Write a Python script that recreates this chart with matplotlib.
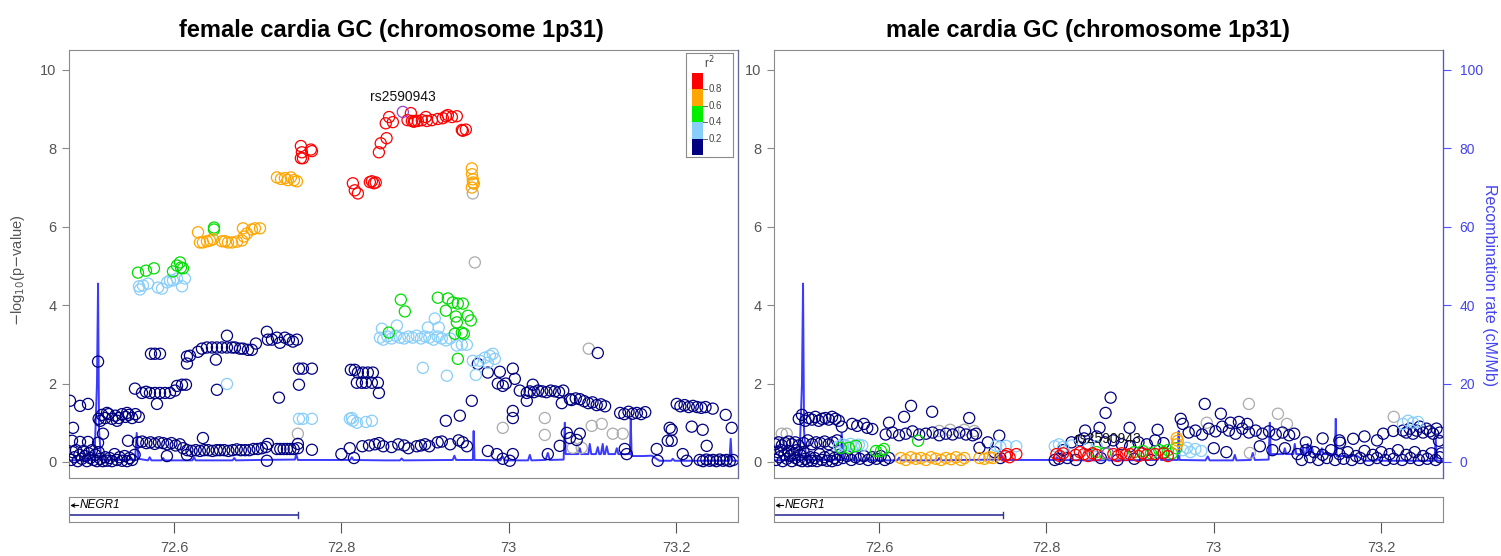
import matplotlib
matplotlib.use('Agg')
import matplotlib.pyplot as plt
from matplotlib.patches import Rectangle

plt.rcParams['font.family'] = ['Liberation Sans', 'DejaVu Sans']

# ---------------- data ----------------
titles = ["female cardia GC (chromosome 1p31)", "male cardia GC (chromosome 1p31)"]
lead_snp = "rs2590943"
lead_pos = 72.8734
gene_name = "NEGR1"
gene_end = 72.748
x_ticks = [72.6, 72.8, 73.0, 73.2]
x_tick_labels = ["72.6", "72.8", "73", "73.2"]
y_ticks = [0, 2, 4, 6, 8, 10]
rec_ticks = [0, 20, 40, 60, 80, 100]
legend_breaks = ["0.8", "0.6", "0.4", "0.2"]

# recombination rate (cM/Mb), shared by both panels
rec_pos = [72.4746, 72.505, 72.5080, 72.5093, 72.5105, 72.513, 72.540, 72.5535, 72.5555, 72.5575,
           72.569, 72.571, 72.573, 72.585, 72.587, 72.589, 72.622, 72.624, 72.626, 72.670, 72.672,
           72.674, 72.700, 72.7445, 72.746, 72.748, 72.8105, 72.8125, 72.8145, 72.850, 72.870, 72.872,
           72.874, 72.933, 72.935, 72.937, 72.957, 72.958, 72.959, 72.990, 72.9928, 72.995, 73.023,
           73.0251, 73.027, 73.044, 73.0466, 73.049, 73.0655, 73.0669, 73.068, 73.070, 73.083, 73.0848,
           73.0865, 73.095, 73.0967, 73.0985, 73.104, 73.1063, 73.108, 73.110, 73.1122, 73.1135, 73.115,
           73.117, 73.119, 73.127, 73.129, 73.131, 73.1447, 73.1457, 73.1467, 73.160, 73.1707, 73.180,
           73.194, 73.1958, 73.198, 73.2635, 73.2651, 73.2665, 73.2738]
rec_rate = [0.4, 0.5, 20.0, 45.5, 8.0, 0.6, 0.5, 0.6, 7.4, 0.8,
            0.4, 1.2, 0.4, 0.4, 1.0, 0.4, 0.4, 1.1, 0.4, 0.4, 1.0,
            0.4, 0.5, 0.6, 2.0, 0.5, 0.5, 1.2, 0.5, 0.4, 0.4, 0.9,
            0.4, 0.5, 1.6, 0.5, 0.5, 7.9, 0.5, 0.4, 1.4, 0.4, 0.4,
            1.8, 0.4, 0.5, 2.3, 0.5, 0.6, 10.0, 2.0, 2.0, 2.0, 3.5,
            2.0, 2.0, 4.6, 2.0, 2.0, 3.8, 2.0, 2.0, 4.6, 2.0, 2.0,
            4.0, 2.0, 2.0, 3.5, 2.0, 2.0, 11.0, 1.5, 1.5, 1.6, 0.3,
            0.3, 0.8, 0.3, 0.3, 5.9, 0.3, 0.3]

# ---- female panel: (position Mb, -log10 p) by LD class ----
f_lead = [(72.8734, 8.93)]
f_red = [(72.7516, 8.06), (72.7528, 7.90), (72.7516, 7.75), (72.7540, 7.75), (72.7636, 7.97), (72.7648, 7.93),
         (72.8137, 7.11), (72.8160, 6.93), (72.8197, 6.85), (72.8340, 7.14), (72.8364, 7.16), (72.8388, 7.11),
         (72.8410, 7.13), (72.8448, 7.90), (72.8470, 8.13), (72.8540, 8.26), (72.8530, 8.64), (72.8570, 8.80),
         (72.8615, 8.67), (72.8790, 8.72), (72.8830, 8.90), (72.8842, 8.70), (72.8866, 8.68), (72.8878, 8.70),
         (72.8913, 8.70), (72.8961, 8.72), (72.9009, 8.80), (72.9021, 8.70), (72.9081, 8.72), (72.9152, 8.75),
         (72.9212, 8.77), (72.9248, 8.82), (72.9272, 8.85), (72.9320, 8.80), (72.9379, 8.82), (72.9439, 8.47),
         (72.9451, 8.45), (72.9487, 8.48)]
f_orange = [(72.7230, 7.26), (72.7278, 7.22), (72.7325, 7.24), (72.7360, 7.19), (72.7397, 7.26), (72.7433, 7.19),
            (72.7469, 7.16), (72.9558, 7.49), (72.9560, 7.34), (72.9570, 7.21), (72.9572, 7.13), (72.9582, 7.10),
            (72.9558, 7.00), (72.6287, 5.86), (72.6310, 5.60), (72.6346, 5.60), (72.6394, 5.63), (72.6430, 5.65),
            (72.6466, 5.68), (72.6573, 5.63), (72.6609, 5.63), (72.6645, 5.60), (72.6693, 5.60), (72.6752, 5.62),
            (72.6812, 5.65), (72.6836, 5.75), (72.6872, 5.83), (72.6824, 5.96), (72.6931, 5.93), (72.6967, 5.96),
            (72.7027, 5.96)]
f_green = [(72.6478, 5.98), (72.6478, 5.93), (72.5570, 4.83), (72.5666, 4.88), (72.5761, 4.94), (72.5988, 4.86),
           (72.6036, 5.01), (72.6072, 5.09), (72.6107, 4.94), (72.6084, 4.96), (72.8710, 4.14), (72.8758, 3.84),
           (72.8567, 3.30), (72.9152, 4.19), (72.9272, 4.17), (72.9331, 4.07), (72.9391, 4.04), (72.9451, 4.04),
           (72.9248, 3.86), (72.9367, 3.71), (72.9510, 3.73), (72.9546, 3.61), (72.9379, 3.56), (72.9355, 3.27),
           (72.9439, 3.30), (72.9463, 3.27), (72.9391, 2.63)]
f_lightblue = [(72.5582, 4.48), (72.5594, 4.40), (72.5630, 4.50), (72.5690, 4.55), (72.5809, 4.45), (72.5857, 4.42),
               (72.5916, 4.58), (72.5952, 4.63), (72.5988, 4.63), (72.6036, 4.68), (72.6096, 4.48), (72.6131, 4.68),
               (72.6633, 1.99), (72.7493, 1.10), (72.7540, 1.10), (72.7648, 1.10), (72.8101, 1.10), (72.8137, 1.05),
               (72.8185, 1.00), (72.8125, 1.12), (72.8364, 1.05), (72.8293, 1.02), (72.8484, 3.40), (72.8663, 3.48),
               (72.9116, 3.66), (72.9033, 3.43), (72.9164, 3.43), (72.8460, 3.17), (72.8500, 3.12), (72.8550, 3.20),
               (72.8600, 3.15), (72.8650, 3.22), (72.8700, 3.17), (72.8750, 3.15), (72.8800, 3.20), (72.8850, 3.17),
               (72.8900, 3.22), (72.8950, 3.15), (72.9000, 3.20), (72.9050, 3.17), (72.9100, 3.12), (72.9150, 3.20),
               (72.9200, 3.15), (72.9250, 3.10), (72.9300, 3.15), (72.9379, 2.97), (72.9439, 2.99), (72.9499, 2.99),
               (72.8973, 2.40), (72.9260, 2.20), (72.9606, 2.22), (72.9570, 2.58), (72.9654, 2.58), (72.9713, 2.66),
               (72.9773, 2.71), (72.9809, 2.76), (72.9833, 2.63), (72.9750, 2.53)]
f_gray = [(72.9594, 5.09), (72.9570, 6.85), (73.0955, 2.89), (72.9928, 0.87), (73.0430, 1.12), (73.0430, 0.69),
          (73.0991, 0.92), (73.1110, 0.97), (73.1242, 0.72), (73.1361, 0.72), (73.0764, 0.36), (73.0871, 0.36),
          (72.7480, 0.72)]
f_navy = [(72.5725, 2.76), (72.5773, 2.76), (72.5833, 2.76), (72.6155, 2.69), (72.6191, 2.71), (72.6155, 2.51),
          (72.6287, 2.81), (72.6334, 2.89), (72.6394, 2.92), (72.6454, 2.92), (72.6513, 2.92), (72.6573, 2.92),
          (72.6633, 2.92), (72.6693, 2.92), (72.6728, 2.92), (72.6788, 2.89), (72.6824, 2.89), (72.6884, 2.86),
          (72.6931, 2.86), (72.6979, 3.02), (72.6501, 2.61), (72.6633, 3.22), (72.7110, 3.32), (72.7122, 3.12),
          (72.7170, 3.12), (72.7230, 3.17), (72.7266, 3.04), (72.7325, 3.17), (72.7373, 3.12), (72.7421, 3.07),
          (72.7469, 3.12), (72.7493, 2.38), (72.7540, 2.38), (72.7648, 2.38), (72.7493, 1.97), (72.7254, 1.64),
          (72.8113, 2.35), (72.8160, 2.35), (72.8197, 2.28), (72.8257, 2.28), (72.8316, 2.28), (72.8376, 2.28),
          (72.8185, 2.02), (72.8245, 2.02), (72.8293, 2.02), (72.8364, 2.02), (72.8436, 2.02), (72.8448, 1.76),
          (72.9630, 2.50), (72.9749, 2.28), (72.9893, 2.30), (73.0048, 2.38), (72.9869, 2.00), (72.9928, 1.94),
          (72.9964, 2.00), (73.0072, 2.12), (73.0131, 1.82), (73.0215, 1.76), (73.0287, 1.97), (72.9558, 1.56),
          (73.0048, 1.30), (72.9415, 1.18), (72.9248, 1.05), (73.0250, 1.80), (73.0300, 1.78), (73.0350, 1.82),
          (73.0400, 1.80), (73.0450, 1.78), (73.0500, 1.82), (73.0550, 1.80), (73.0600, 1.78), (73.0650, 1.82),
          (73.0215, 1.56), (73.0048, 1.12), (73.0633, 1.50), (73.0730, 1.60), (73.0750, 1.58), (73.0800, 1.62),
          (73.0850, 1.60), (73.0900, 1.55), (73.0950, 1.50), (73.1000, 1.52), (73.1050, 1.45), (73.1100, 1.47),
          (73.1150, 1.42), (73.1063, 2.78), (73.1330, 1.25), (73.1380, 1.22), (73.1430, 1.28), (73.1480, 1.23),
          (73.1530, 1.25), (73.1580, 1.22), (73.1630, 1.27), (73.2006, 1.48), (73.2050, 1.42), (73.2100, 1.45),
          (73.2150, 1.40), (73.2200, 1.43), (73.2250, 1.40), (73.2300, 1.38), (73.2350, 1.40), (73.2436, 1.36),
          (73.2591, 1.20), (73.2663, 0.87), (73.2364, 0.41), (73.2280, 0.05), (73.2320, 0.02), (73.2360, 0.06),
          (73.2400, 0.03), (73.2440, 0.05), (73.2480, 0.02), (73.2520, 0.06), (73.2560, 0.03), (73.2600, 0.05),
          (73.2640, 0.02), (73.2680, 0.05), (73.0693, 0.74), (73.0730, 0.61), (73.0812, 0.56), (73.0848, 0.72),
          (73.0609, 0.41), (72.9750, 0.28), (72.9857, 0.20), (72.9928, 0.08), (73.0012, 0.03), (73.0048, 0.20),
          (73.0466, 0.20), (73.1385, 0.33), (73.1409, 0.20), (73.1779, 0.03), (73.1767, 0.33), (73.2078, 0.20),
          (73.2125, 0.03), (73.1922, 0.87), (73.1946, 0.82), (73.1899, 0.54), (73.1946, 0.54), (73.2185, 0.90),
          (73.2316, 0.82), (72.4758, 1.56), (72.4878, 1.43), (72.4973, 1.48), (72.5093, 2.56), (72.5100, 1.10),
          (72.5140, 1.20), (72.5180, 1.12), (72.5220, 1.22), (72.5260, 1.10), (72.5300, 1.18), (72.5340, 1.12),
          (72.5380, 1.22), (72.5420, 1.15), (72.5460, 1.20), (72.5500, 1.12), (72.5540, 1.22), (72.5580, 1.15),
          (72.5120, 1.05), (72.5200, 1.25), (72.5320, 1.05), (72.5440, 1.25), (72.5534, 1.87), (72.5618, 1.76),
          (72.5666, 1.79), (72.5713, 1.76), (72.5773, 1.76), (72.5833, 1.76), (72.5893, 1.76), (72.5952, 1.76),
          (72.6012, 1.82), (72.6036, 1.94), (72.6096, 1.97), (72.6143, 1.97), (72.5797, 1.48), (72.6513, 1.84),
          (72.4794, 0.87), (72.4782, 0.54), (72.4878, 0.51), (72.4973, 0.51), (72.5093, 0.49), (72.5152, 0.72),
          (72.5451, 0.54), (72.5570, 0.50), (72.5620, 0.52), (72.5670, 0.48), (72.5720, 0.50), (72.5770, 0.46),
          (72.5820, 0.50), (72.5870, 0.48), (72.5920, 0.45), (72.5970, 0.48), (72.6020, 0.42), (72.6070, 0.45),
          (72.6346, 0.61), (72.6110, 0.35), (72.6160, 0.30), (72.6210, 0.28), (72.6260, 0.30), (72.6310, 0.28),
          (72.6360, 0.30), (72.6410, 0.30), (72.6460, 0.28), (72.6510, 0.30), (72.6550, 0.30), (72.6600, 0.30),
          (72.6650, 0.28), (72.6700, 0.30), (72.6750, 0.32), (72.6800, 0.30), (72.6850, 0.30), (72.6900, 0.30),
          (72.6950, 0.33), (72.7000, 0.33), (72.7050, 0.35), (72.7100, 0.38), (72.7122, 0.46), (72.7230, 0.33),
          (72.7270, 0.33), (72.7310, 0.33), (72.7350, 0.33), (72.7390, 0.33), (72.7430, 0.33), (72.7480, 0.35),
          (72.7480, 0.46), (72.7648, 0.31), (72.4770, 0.05), (72.4790, 0.25), (72.4810, 0.12), (72.4830, 0.30),
          (72.4850, 0.02), (72.4870, 0.18), (72.4900, 0.08), (72.4920, 0.28), (72.4940, 0.15), (72.4960, 0.02),
          (72.4980, 0.22), (72.5000, 0.10), (72.5020, 0.30), (72.5040, 0.05), (72.5060, 0.18), (72.5080, 0.02),
          (72.5100, 0.25), (72.5120, 0.08), (72.5150, 0.02), (72.5180, 0.12), (72.5200, 0.03), (72.5230, 0.10),
          (72.5260, 0.02), (72.5290, 0.20), (72.5320, 0.05), (72.5350, 0.12), (72.5380, 0.03), (72.5410, 0.15),
          (72.5440, 0.02), (72.5470, 0.10), (72.5500, 0.05), (72.5530, 0.18), (72.5916, 0.15), (72.6155, 0.18),
          (72.7110, 0.03), (72.8000, 0.20), (72.8100, 0.35), (72.8150, 0.10), (72.8250, 0.40), (72.8330, 0.42),
          (72.8400, 0.45), (72.8450, 0.48), (72.8500, 0.40), (72.8600, 0.38), (72.8680, 0.45), (72.8750, 0.42),
          (72.8800, 0.35), (72.8900, 0.40), (72.8950, 0.42), (72.9000, 0.45), (72.9050, 0.40), (72.9150, 0.50),
          (72.9200, 0.52), (72.9300, 0.45), (72.9400, 0.55), (72.9450, 0.50), (72.9500, 0.40)]

# ---- male panel ----
m_lead = [(72.8734, 0.22)]
m_red = [(72.7509, 0.15), (72.7530, 0.20), (72.7560, 0.12), (72.7641, 0.20), (72.8120, 0.20), (72.8160, 0.15),
         (72.8200, 0.22), (72.8350, 0.18), (72.8400, 0.25), (72.8450, 0.20), (72.8500, 0.15), (72.8550, 0.22),
         (72.8600, 0.18), (72.8800, 0.20), (72.8850, 0.15), (72.8900, 0.22), (72.8950, 0.18), (72.9000, 0.20),
         (72.9100, 0.15), (72.9150, 0.22), (72.9200, 0.18), (72.9300, 0.20), (72.9400, 0.22), (72.9450, 0.15)]
m_orange = [(72.6260, 0.10), (72.6320, 0.05), (72.6380, 0.12), (72.6440, 0.08), (72.6500, 0.10), (72.6560, 0.05),
            (72.6620, 0.12), (72.6680, 0.08), (72.6740, 0.05), (72.6800, 0.10), (72.6860, 0.07), (72.6920, 0.12),
            (72.6980, 0.05), (72.7020, 0.10), (72.7200, 0.10), (72.7260, 0.08), (72.7320, 0.12), (72.7360, 0.10),
            (72.9557, 0.61), (72.9569, 0.54), (72.9560, 0.45)]
m_green = [(72.5545, 0.36), (72.5641, 0.36), (72.5725, 0.41), (72.5964, 0.28), (72.6024, 0.28), (72.6060, 0.33),
           (72.6467, 0.54), (72.8600, 0.25), (72.8700, 0.22), (72.9050, 0.25), (72.9150, 0.28), (72.9250, 0.22),
           (72.9350, 0.30), (72.9400, 0.25), (72.9450, 0.30), (72.9500, 0.22), (72.9550, 0.35)]
m_lightblue = [(72.5520, 0.40), (72.5560, 0.45), (72.5600, 0.42), (72.5660, 0.46), (72.5700, 0.40), (72.5760, 0.44),
               (72.5800, 0.42), (72.7400, 0.41), (72.7450, 0.38), (72.7520, 0.41), (72.7640, 0.40), (72.8100, 0.40),
               (72.8150, 0.45), (72.8200, 0.38), (72.8300, 0.42), (72.8500, 0.35), (72.8600, 0.40), (72.9630, 0.30),
               (72.9680, 0.36), (72.9720, 0.25), (72.9780, 0.33), (72.9850, 0.28), (73.2260, 0.97), (73.2320, 1.05),
               (73.2380, 1.00), (73.2440, 1.02)]
m_gray = [(72.4838, 0.72), (72.4898, 0.72), (72.6719, 0.79), (72.6850, 0.82), (72.7018, 0.82), (72.7138, 0.79),
          (73.0419, 1.48), (73.0766, 1.23), (73.0874, 0.97), (72.9916, 1.00), (73.0431, 0.23), (73.2150, 1.15)]
m_navy = [(72.4760, 0.45), (72.4800, 0.50), (72.4840, 0.42), (72.4880, 0.48), (72.4920, 0.52), (72.4960, 0.45),
          (72.5000, 0.50), (72.5040, 0.42), (72.5100, 0.48), (72.5150, 0.55), (72.5200, 0.45), (72.5250, 0.50),
          (72.5300, 0.48), (72.5350, 0.52), (72.5400, 0.45), (72.5450, 0.50), (72.5500, 0.55), (72.5042, 1.10),
          (72.5080, 1.20), (72.5120, 1.05), (72.5160, 1.12), (72.5200, 1.08), (72.5240, 1.15), (72.5280, 1.05),
          (72.5320, 1.10), (72.5360, 1.12), (72.5400, 1.08), (72.5440, 1.15), (72.5480, 1.10), (72.5520, 1.05),
          (72.5557, 0.90), (72.5680, 0.97), (72.5740, 0.92), (72.5820, 0.97), (72.5860, 0.87), (72.5920, 0.84),
          (72.4770, 0.05), (72.4790, 0.25), (72.4810, 0.12), (72.4830, 0.30), (72.4850, 0.02), (72.4870, 0.18),
          (72.4900, 0.08), (72.4920, 0.28), (72.4940, 0.15), (72.4960, 0.02), (72.4980, 0.22), (72.5000, 0.10),
          (72.5020, 0.30), (72.5040, 0.05), (72.5060, 0.18), (72.5080, 0.02), (72.5100, 0.25), (72.5120, 0.08),
          (72.5150, 0.02), (72.5180, 0.12), (72.5200, 0.03), (72.5230, 0.10), (72.5260, 0.02), (72.5290, 0.20),
          (72.5320, 0.05), (72.5350, 0.12), (72.5380, 0.03), (72.5410, 0.15), (72.5440, 0.02), (72.5470, 0.10),
          (72.5500, 0.05), (72.5530, 0.18), (72.5570, 0.10), (72.5620, 0.15), (72.5670, 0.05), (72.5720, 0.12),
          (72.5770, 0.08), (72.5820, 0.15), (72.5870, 0.05), (72.5920, 0.12), (72.5970, 0.08), (72.6020, 0.15),
          (72.6070, 0.05), (72.6120, 0.10), (72.6120, 1.00), (72.6300, 1.15), (72.6383, 1.43), (72.6635, 1.28),
          (72.6080, 0.70), (72.6160, 0.75), (72.6240, 0.68), (72.6320, 0.72), (72.6400, 0.78), (72.6480, 0.70),
          (72.6560, 0.72), (72.6640, 0.75), (72.6720, 0.68), (72.6800, 0.72), (72.6880, 0.70), (72.6960, 0.75),
          (72.7040, 0.70), (72.7120, 0.68), (72.7160, 0.72), (72.7078, 1.12), (72.7200, 0.36), (72.7437, 0.67),
          (72.7300, 0.50), (72.7380, 0.25), (72.7450, 0.10), (72.8100, 0.05), (72.8200, 0.30), (72.8250, 0.10),
          (72.8300, 0.50), (72.8400, 0.55), (72.8450, 0.60), (72.8500, 0.45), (72.8600, 0.65), (72.8700, 0.50),
          (72.8800, 0.55), (72.8900, 0.45), (72.9000, 0.40), (72.9100, 0.50), (72.9200, 0.45), (72.9300, 0.55),
          (72.9400, 0.48), (72.8150, 0.08), (72.8350, 0.05), (72.8650, 0.10), (72.8850, 0.05), (72.9050, 0.08),
          (72.9250, 0.05), (72.8463, 0.80), (72.8635, 0.87), (72.8707, 1.25), (72.8767, 1.64), (72.8994, 0.87),
          (72.9329, 0.82), (72.9605, 1.10), (72.9629, 0.97), (72.9892, 1.48), (73.0084, 1.23), (72.9700, 0.75),
          (72.9780, 0.80), (72.9860, 0.70), (72.9940, 0.85), (73.0020, 0.78), (73.0100, 0.90), (73.0180, 0.80),
          (73.0260, 0.72), (73.0340, 0.85), (73.0420, 0.75), (73.0500, 0.80), (73.0580, 0.72), (73.0660, 0.78),
          (73.0740, 0.70), (73.0820, 0.75), (73.0900, 0.68), (73.0960, 0.72), (73.0200, 1.00), (73.0300, 1.02),
          (73.0400, 0.97), (73.0000, 0.35), (73.0150, 0.25), (73.0550, 0.40), (73.0700, 0.30), (73.0850, 0.35),
          (73.1000, 0.20), (73.1050, 0.05), (73.1100, 0.30), (73.1150, 0.12), (73.1200, 0.25),
          (73.1250, 0.05), (73.1300, 0.18), (73.1350, 0.10), (73.1400, 0.30), (73.1450, 0.05), (73.1500, 0.20),
          (73.1550, 0.08), (73.1600, 0.25), (73.1650, 0.05), (73.1700, 0.15), (73.1750, 0.10), (73.1800, 0.28),
          (73.1850, 0.05), (73.1900, 0.18), (73.1950, 0.10), (73.2000, 0.25), (73.2050, 0.05), (73.2100, 0.20),
          (73.2150, 0.08), (73.2200, 0.30), (73.2250, 0.05), (73.2300, 0.18), (73.2350, 0.10), (73.2400, 0.25),
          (73.2450, 0.05), (73.2500, 0.15), (73.2550, 0.08), (73.2600, 0.22), (73.2650, 0.05), (73.2700, 0.12),
          (73.1509, 0.49), (73.1665, 0.59), (73.2024, 0.72), (73.2144, 0.79), (73.2260, 0.80), (73.2300, 0.75),
          (73.2340, 0.85), (73.2380, 0.72), (73.2420, 0.80), (73.2460, 0.90), (73.2500, 0.75), (73.2540, 0.85),
          (73.2580, 0.78), (73.2620, 0.72), (73.2660, 0.85), (73.2700, 0.75), (73.2690, 0.54), (73.2720, 0.22),
          (73.1100, 0.50), (73.1300, 0.60), (73.1500, 0.55), (73.1800, 0.65), (73.1950, 0.55)]

# ---------------- styling ----------------
W, H = 1501, 556
XLIM = (72.4746, 73.2738)
YLIM = (-0.41, 10.51)
COL = {'gray': '#ababab', 'navy': '#000080', 'lightblue': '#87cefa', 'green': '#00dd00',
       'orange': '#ffa500', 'red': '#ff0000', 'lead': '#9a3fd0'}
REC_COLOR = '#3b3bff'
AX_GRAY = '#8a8a8a'
TXT_GRAY = '#555555'

fig = plt.figure(figsize=(W / 100, H / 100), dpi=100)


def rect(x0, y0, x1, y1):
    return [x0 / W, 1 - y1 / H, (x1 - x0) / W, (y1 - y0) / H]


def scatter_group(ax, pts, color, z):
    xs = [p[0] for p in pts]
    ys = [p[1] for p in pts]
    ax.scatter(xs, ys, s=64, facecolors='none', edgecolors=color, linewidths=0.9, zorder=z)


def panel(x0, x1, title, title_x, groups, lead, show_rec_axis):
    ax = fig.add_axes(rect(x0, 50, x1, 478))
    ax.set_xlim(*XLIM)
    ax.set_ylim(*YLIM)
    # recombination line (scaled to the p-value axis: 100 cM/Mb == 10)
    ax.plot(rec_pos, [r / 10 for r in rec_rate], color=REC_COLOR, lw=1.4, zorder=1)
    for z, (key, pts) in enumerate(groups):
        scatter_group(ax, pts, COL[key], 2 + z)
    scatter_group(ax, lead, COL['lead'], 10)
    ax.text(lead[0][0], lead[0][1] + 0.37, lead_snp, ha='center', va='center',
            fontsize=10, color='#111111', zorder=11)
    ax.set_xticks([])
    ax.set_yticks(y_ticks)
    ax.set_yticklabels([str(t) for t in y_ticks])
    ax.tick_params(axis='y', direction='out', length=5, width=0.8, color=AX_GRAY,
                   labelcolor=TXT_GRAY, labelsize=10.5, pad=4)
    for s in ax.spines.values():
        s.set_color(AX_GRAY)
        s.set_linewidth(0.8)
    ax2 = ax.twinx()
    ax2.set_ylim(YLIM[0] * 10, YLIM[1] * 10)
    for s in ['left', 'top', 'bottom']:
        ax2.spines[s].set_visible(False)
    if show_rec_axis:
        ax2.spines['right'].set_color('#5050ff')
        ax2.spines['right'].set_linewidth(0.9)
        ax2.set_yticks(rec_ticks)
        ax2.set_yticklabels([str(t) for t in rec_ticks])
        ax2.tick_params(axis='y', direction='out', length=6, width=0.8, color='#5050ff',
                        labelcolor='#4444ee', labelsize=10, pad=6)
    else:
        ax2.spines['right'].set_color('#6a6a9a')
        ax2.spines['right'].set_linewidth(0.9)
        ax2.set_yticks([])
    fig.text(title_x / W, 1 - 30 / H, title, ha='center', va='center',
             fontsize=17, fontweight='bold', color='black')

    # gene track
    g = fig.add_axes(rect(x0, 497, x1, 522))
    g.set_xlim(*XLIM)
    g.set_ylim(0, 1)
    g.set_yticks([])
    g.set_xticks(x_ticks)
    g.set_xticklabels(x_tick_labels)
    g.tick_params(axis='x', direction='out', length=8, width=0.8, color='#555555',
                  labelcolor=TXT_GRAY, labelsize=10.5, pad=6)
    for s in g.spines.values():
        s.set_color(AX_GRAY)
        s.set_linewidth(0.8)
    g.plot([XLIM[0], gene_end], [0.28, 0.28], color='#333399', lw=1.2)
    g.plot([gene_end, gene_end], [0.16, 0.40], color='#333399', lw=1.0)
    g.annotate('', xy=(XLIM[0] + 0.0015, 0.66), xytext=(XLIM[0] + 0.0115, 0.66),
               arrowprops=dict(arrowstyle='->', color='black', lw=0.8, mutation_scale=6,
                               shrinkA=0, shrinkB=0))
    g.text(XLIM[0] + 0.0122, 0.66, gene_name, style='italic', fontsize=8.5,
           ha='left', va='center', color='black')
    return ax


female_groups = [('gray', f_gray), ('navy', f_navy), ('lightblue', f_lightblue),
                 ('green', f_green), ('orange', f_orange), ('red', f_red)]
male_groups = [('gray', m_gray), ('navy', m_navy), ('lightblue', m_lightblue),
               ('green', m_green), ('orange', m_orange), ('red', m_red)]

panel(69, 738, titles[0], 391, female_groups, f_lead, False)
panel(774, 1443, titles[1], 1088, male_groups, m_lead, True)

# axis labels
fig.text(18 / W, 1 - 270 / H, r'$-$log$_{10}$(p$-$value)', rotation=90, ha='center', va='center',
         fontsize=10.5, color=TXT_GRAY)
fig.text(1489 / W, 1 - 285 / H, 'Recombination rate (cM/Mb)', rotation=270, ha='center', va='center',
         fontsize=11.5, color='#4444ee')

# r^2 legend
lg = fig.add_axes(rect(686, 53, 733, 157))
lg.set_xlim(686, 733)
lg.set_ylim(157, 53)
lg.set_xticks([])
lg.set_yticks([])
for s in lg.spines.values():
    s.set_color(AX_GRAY)
    s.set_linewidth(0.8)
leg_colors = ['#ff0000', '#ffa500', '#00ee00', '#87cefa', '#000080']
seg_h = (155 - 73) / 5
for i, c in enumerate(leg_colors):
    lg.add_patch(Rectangle((692, 73 + i * seg_h), 11, seg_h, facecolor=c, edgecolor='none'))
for i, lab in enumerate(legend_breaks):
    yb = 73 + (i + 1) * seg_h
    lg.plot([703, 707], [yb, yb], color='#666666', lw=0.7)
    lg.text(709, yb, lab, fontsize=7, va='center', ha='left', color='#444444')
lg.text(709, 63, r'r$^2$', fontsize=8.5, ha='center', va='center', color='#444444')

fig.savefig('out.png', dpi=100)
